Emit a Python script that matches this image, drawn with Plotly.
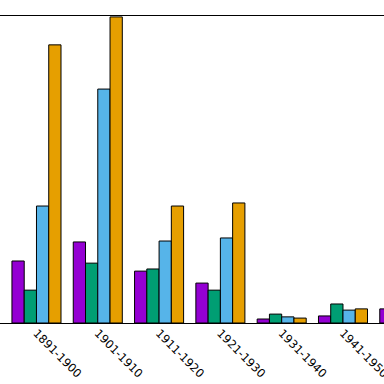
import plotly.graph_objects as go

categories = ["1891-1900", "1901-1910", "1911-1920", "1921-1930", "1931-1940", "1941-1950", "1951-1960"]
series_a = [20.2, 26.4, 16.9, 13.0, 1.3, 2.3, 4.6]
series_b = [10.7, 19.5, 17.6, 10.7, 2.9, 6.2, None]
series_c = [38.1, 76.2, 26.7, 27.7, 2.0, 4.2, None]
series_d = [90.6, 99.7, 38.1, 39.1, 1.6, 4.6, None]
colors = ["#9400D3", "#009E73", "#56B4E9", "#E69F00"]
names = ["A", "B", "C", "D"]

fig = go.Figure()
for name, vals, col in zip(names, [series_a, series_b, series_c, series_d], colors):
    fig.add_trace(go.Bar(x=categories, y=vals, name=name, marker_color=col,
                         marker_line_color="black", marker_line_width=1))

fig.update_layout(
    width=384, height=384,
    margin=dict(l=0, r=0, t=16, b=61),
    paper_bgcolor="white", plot_bgcolor="white",
    barmode="group", bargap=0.2, bargroupgap=0,
    showlegend=False,
    font=dict(family="DejaVu Sans", size=11.5, color="black"),
)
fig.update_xaxes(range=[-0.595, 5.669], showline=True, mirror=True, linecolor="black",
                 linewidth=1, tickangle=45, ticks="", showgrid=False, automargin=False,
                 ticklabelstandoff=-2)
fig.update_yaxes(range=[0, 100], showticklabels=False, showgrid=False, zeroline=False,
                 showline=False, ticks="", automargin=False)
fig.write_html("out.html", config={"displayModeBar": False},
               post_script="document.body.style.margin='0';document.body.style.overflow='hidden';")
